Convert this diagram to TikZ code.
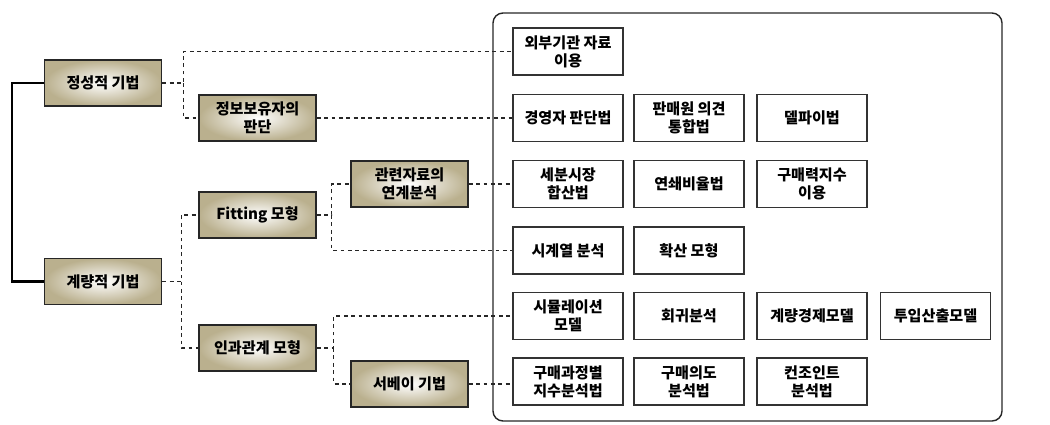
\documentclass[tikz,border=0pt]{standalone}
\usepackage{fontspec}
\newfontfamily\kr{Noto Sans CJK KR}
\usetikzlibrary{calc,positioning}
\definecolor{tanbox}{RGB}{186,176,142}
\tikzset{
    method/.style={draw=black!85, line width=0.9pt, shading=radial,
    inner color=white, outer color=tanbox, minimum width=2.34cm,
    minimum height=0.92cm, align=center, inner sep=0pt,
    font=\kr\bfseries\fontsize{8.6}{10.4}\selectfont},
    tech/.style={draw=black!80, line width=0.8pt, fill=white,
    minimum width=2.2cm, minimum height=0.94cm, align=center,
    inner sep=0pt, font=\kr\bfseries\fontsize{8.6}{10.4}\selectfont},
    link/.style={draw=black!85, line width=0.7pt, dash pattern=on 2.2pt off 2pt},
    trunk/.style={draw=black, line width=1.3pt},
    frame/.style={draw=black!85, line width=0.8pt, rounded corners=0.2cm}
}

\begin{document}
\begin{tikzpicture}[x=0.02cm, y=-0.02cm]
  \useasboundingbox (0,0) rectangle (1050,424);
  \draw[frame] (493,13) rectangle (1002,421);

  % methods
  \node[method] (qual)   at (103,83)    {정성적 기법};
  \node[method] (quant)  at (103,281.5) {계량적 기법};
  \node[method] (holder) at (257.5,118) {정보보유자의\\판단};
  \node[method] (fit)    at (257.5,215) {Fitting 모형};
  \node[method] (causal) at (257.5,348) {인과관계 모형};
  \node[method] (relate) at (409.5,184) {관련자료의\\연계분석};
  \node[method] (survey) at (409.5,384) {서베이 기법};

  % techniques
  \node[tech] (ext)    at (568,51.5)    {외부기관 자료\\이용};
  \node[tech] (ceo)    at (568,118)     {경영자 판단법};
  \node[tech] (sales)  at (689,118)     {판매원 의견\\통합법};
  \node[tech] (delphi) at (812,118)     {델파이법};
  \node[tech] (seg)    at (568,184)     {세분시장\\합산법};
  \node[tech] (chain)  at (689,184)     {연쇄비율법};
  \node[tech] (power)  at (812,184)     {구매력지수\\이용};
  \node[tech] (ts)     at (568,250.5)   {시계열 분석};
  \node[tech] (diff)   at (689,250.5)   {확산 모형};
  \node[tech] (sim)    at (568,316)     {시뮬레이션\\모델};
  \node[tech] (reg)    at (689,316)     {회귀분석};
  \node[tech] (econ)   at (812,316)     {계량경제모델};
  \node[tech] (io)     at (935.5,316)   {투입산출모델};
  \node[tech] (proc)   at (568,381.5)   {구매과정별\\지수분석법};
  \node[tech] (intent) at (689,381.5)   {구매의도\\분석법};
  \node[tech] (conj)   at (812,381.5)   {컨조인트\\분석법};

  \coordinate (root) at (12,83);
  \coordinate (j1) at ($(qual.east)+(21,0)$);
  \coordinate (j2) at ($(quant.east)+(19,0)$);
  \coordinate (j3) at ($(fit.east)+(15,0)$);
  \coordinate (j4) at ($(causal.east)+(17,0)$);

  \draw[trunk] (qual.west) -- (root) |- (quant.west);

  \draw[link] (qual.east) -- (j1) |- (ext.west);
  \draw[link] (j1) |- (holder.west);
  \draw[link] (holder.east) -- (ceo.west);
  \draw[link] (quant.east) -- (j2) |- (fit.west);
  \draw[link] (j2) |- (causal.west);
  \draw[link] (fit.east) -- (j3) |- (relate.west);
  \draw[link] (j3) |- (ts.west);
  \draw[link] (relate.east) -- (seg.west);
  \draw[link] (causal.east) -- (j4) |- (sim.west);
  \draw[link] (j4) |- (survey.west);
  \draw[link] (survey.east) -- (survey.east -| proc.west);
\end{tikzpicture}
\end{document}
